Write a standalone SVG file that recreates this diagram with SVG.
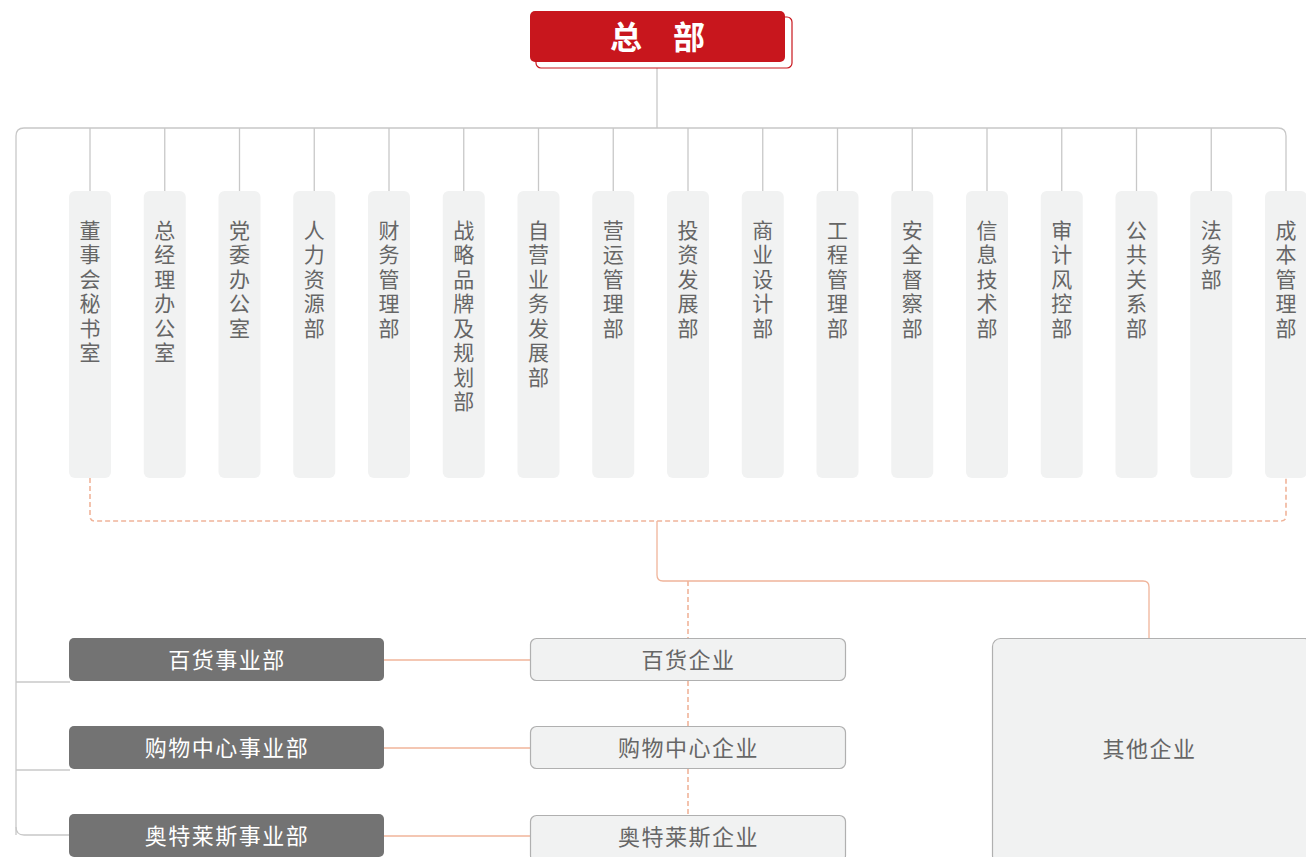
<svg xmlns="http://www.w3.org/2000/svg" width="1306" height="857" viewBox="0 0 1306 857">
<style>
.grey{stroke:#c8c8c8;stroke-width:1.3;fill:none}
.or{stroke:#f0b49a;stroke-width:1.3;fill:none}
.ord{stroke:#f0b49a;stroke-width:1.6;fill:none;stroke-dasharray:5 3}
.col rect{fill:#f1f2f2}
.col text{font-family:"Noto Sans CJK SC","Noto Sans",sans-serif;font-size:21px;fill:#666;writing-mode:vertical-rl;letter-spacing:3.5px}
.dark rect{fill:#737373}
.dark text{font-family:"Noto Sans CJK SC","Noto Sans",sans-serif;font-size:22px;fill:#fff;text-anchor:middle;letter-spacing:1.5px}
.light rect{fill:#f1f2f2;stroke:#b0b0b0;stroke-width:1.2}
.light text{font-family:"Noto Sans CJK SC","Noto Sans",sans-serif;font-size:22px;fill:#666;text-anchor:middle;letter-spacing:1.5px}
</style>
<rect width="1306" height="857" fill="#fff"/>
<g id="connectors">
<line class="grey" x1="657" y1="68" x2="657" y2="128"/>
<path class="grey" d="M16,835 V136 Q16,128 24,128 H1278 Q1286,128 1286,136 V191"/>
<path class="grey" d="M16,827 Q16,835 24,835 H70"/>
<line class="grey" x1="16" y1="682" x2="70" y2="682"/>
<line class="grey" x1="16" y1="770" x2="70" y2="770"/>
<g class="grey">
<line x1="90" y1="128" x2="90" y2="191"/>
<line x1="164.75" y1="128" x2="164.75" y2="191"/>
<line x1="239.5" y1="128" x2="239.5" y2="191"/>
<line x1="314.25" y1="128" x2="314.25" y2="191"/>
<line x1="389" y1="128" x2="389" y2="191"/>
<line x1="463.75" y1="128" x2="463.75" y2="191"/>
<line x1="538.5" y1="128" x2="538.5" y2="191"/>
<line x1="613.25" y1="128" x2="613.25" y2="191"/>
<line x1="688" y1="128" x2="688" y2="191"/>
<line x1="762.75" y1="128" x2="762.75" y2="191"/>
<line x1="837.5" y1="128" x2="837.5" y2="191"/>
<line x1="912.25" y1="128" x2="912.25" y2="191"/>
<line x1="987" y1="128" x2="987" y2="191"/>
<line x1="1061.75" y1="128" x2="1061.75" y2="191"/>
<line x1="1136.5" y1="128" x2="1136.5" y2="191"/>
<line x1="1211.25" y1="128" x2="1211.25" y2="191"/>
</g>
<path class="ord" d="M90,478 V516 Q90,521 95,521 H1281 Q1286,521 1286,516 V478"/>
<path class="or" d="M657,521 V575 Q657,581 663,581 H1143 Q1149,581 1149,587 V638"/>
<line class="ord" x1="688" y1="581" x2="688" y2="638"/>
<line class="ord" x1="688" y1="681" x2="688" y2="726"/>
<line class="ord" x1="688" y1="769" x2="688" y2="814"/>
<line class="or" x1="384" y1="660" x2="530" y2="660"/>
<line class="or" x1="384" y1="748" x2="530" y2="748"/>
<line class="or" x1="384" y1="836" x2="530" y2="836"/>
</g>
<g id="hq">
<rect x="536" y="17" width="256" height="51" rx="5" fill="#fff" stroke="#c8161d" stroke-width="1.2"/>
<rect x="530" y="11" width="255" height="51" rx="5" fill="#c8161d"/>
<text x="626" y="49" font-family="'Noto Sans CJK SC',sans-serif" font-size="32" font-weight="bold" fill="#fff" text-anchor="middle">总</text>
<text x="689" y="49" font-family="'Noto Sans CJK SC',sans-serif" font-size="32" font-weight="bold" fill="#fff" text-anchor="middle">部</text>
</g>
<g id="c1" class="col"><rect x="69" y="191" width="42" height="287" rx="6"/><text x="90" y="219.5">董事会秘书室</text></g>
<g id="c2" class="col"><rect x="143.75" y="191" width="42" height="287" rx="6"/><text x="164.75" y="219.5">总经理办公室</text></g>
<g id="c3" class="col"><rect x="218.5" y="191" width="42" height="287" rx="6"/><text x="239.5" y="219.5">党委办公室</text></g>
<g id="c4" class="col"><rect x="293.25" y="191" width="42" height="287" rx="6"/><text x="314.25" y="219.5">人力资源部</text></g>
<g id="c5" class="col"><rect x="368" y="191" width="42" height="287" rx="6"/><text x="389" y="219.5">财务管理部</text></g>
<g id="c6" class="col"><rect x="442.75" y="191" width="42" height="287" rx="6"/><text x="463.75" y="219.5">战略品牌及规划部</text></g>
<g id="c7" class="col"><rect x="517.5" y="191" width="42" height="287" rx="6"/><text x="538.5" y="219.5">自营业务发展部</text></g>
<g id="c8" class="col"><rect x="592.25" y="191" width="42" height="287" rx="6"/><text x="613.25" y="219.5">营运管理部</text></g>
<g id="c9" class="col"><rect x="667" y="191" width="42" height="287" rx="6"/><text x="688" y="219.5">投资发展部</text></g>
<g id="c10" class="col"><rect x="741.75" y="191" width="42" height="287" rx="6"/><text x="762.75" y="219.5">商业设计部</text></g>
<g id="c11" class="col"><rect x="816.5" y="191" width="42" height="287" rx="6"/><text x="837.5" y="219.5">工程管理部</text></g>
<g id="c12" class="col"><rect x="891.25" y="191" width="42" height="287" rx="6"/><text x="912.25" y="219.5">安全督察部</text></g>
<g id="c13" class="col"><rect x="966" y="191" width="42" height="287" rx="6"/><text x="987" y="219.5">信息技术部</text></g>
<g id="c14" class="col"><rect x="1040.75" y="191" width="42" height="287" rx="6"/><text x="1061.75" y="219.5">审计风控部</text></g>
<g id="c15" class="col"><rect x="1115.5" y="191" width="42" height="287" rx="6"/><text x="1136.5" y="219.5">公共关系部</text></g>
<g id="c16" class="col"><rect x="1190.25" y="191" width="42" height="287" rx="6"/><text x="1211.25" y="219.5">法务部</text></g>
<g id="c17" class="col"><rect x="1265" y="191" width="42" height="287" rx="6"/><text x="1286" y="219.5">成本管理部</text></g>
<g id="d1" class="dark"><rect x="69" y="638" width="315" height="43" rx="5"/><text x="227" y="668">百货事业部</text></g>
<g id="d2" class="dark"><rect x="69" y="726" width="315" height="43" rx="5"/><text x="227" y="756">购物中心事业部</text></g>
<g id="d3" class="dark"><rect x="69" y="814" width="315" height="43" rx="5"/><text x="227" y="844">奥特莱斯事业部</text></g>
<g id="e1" class="light"><rect x="530.5" y="638.5" width="315" height="42" rx="6"/><text x="688.5" y="668">百货企业</text></g>
<g id="e2" class="light"><rect x="530.5" y="726.5" width="315" height="42" rx="6"/><text x="688.5" y="756">购物中心企业</text></g>
<g id="e3" class="light"><rect x="530.5" y="815.5" width="315" height="46" rx="6"/><text x="688.5" y="845">奥特莱斯企业</text></g>
<g id="e4" class="light"><rect x="992.5" y="638.5" width="320" height="225" rx="8"/><text x="1149.5" y="757">其他企业</text></g>
</svg>
